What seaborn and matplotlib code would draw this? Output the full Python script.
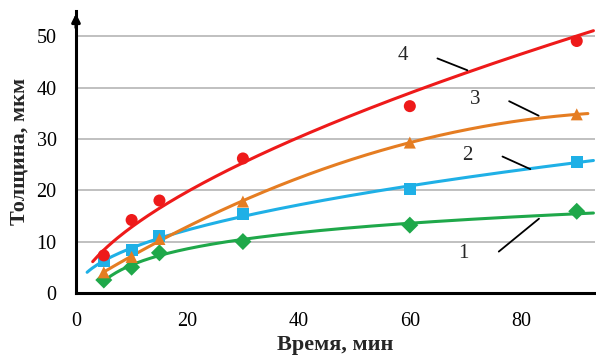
import numpy as np
import pandas as pd
import matplotlib
matplotlib.use('Agg')
import matplotlib.pyplot as plt
import seaborn as sns

# Measured points (time, min) and thickness (um) for the four curves
time = [5, 10, 15, 30, 60, 90]
thick_1 = [2.5, 5.0, 7.8, 10.0, 13.2, 15.9]
thick_2 = [6.3, 8.3, 11.1, 15.3, 20.3, 25.5]
thick_3 = [4.0, 7.0, 10.5, 17.8, 29.3, 34.8]
thick_4 = [7.3, 14.2, 18.0, 26.2, 36.4, 49.1]

curve_labels = ['1', '2', '3', '4']
colors = {'1': '#1fa84a', '2': '#1fb0e6', '3': '#e57d22', '4': '#ee1a1a'}
markers = {'1': 'D', '2': 's', '3': '^', '4': 'o'}

# trend line types (as in the spreadsheet) and their drawn x-range
trend_kind = {'1': 'log', '2': 'power', '3': 'poly2', '4': 'power'}
trend_range = {'1': (5, 93), '2': (2, 93), '3': (5, 92), '4': (3, 93)}

points = pd.DataFrame({
    'time': time * 4,
    'thick': thick_1 + thick_2 + thick_3 + thick_4,
    'curve': [c for c in curve_labels for _ in time],
})


def trend(x, y, kind, xs):
    x = np.asarray(x, float)
    y = np.asarray(y, float)
    if kind == 'power':
        b, a = np.polyfit(np.log(x), np.log(y), 1)
        return np.exp(a) * xs ** b
    if kind == 'log':
        b, a = np.polyfit(np.log(x), y, 1)
        return a + b * np.log(xs)
    return np.polyval(np.polyfit(x, y, 2), xs)


rows = []
for c in curve_labels:
    sub = points[points['curve'] == c]
    xs = np.linspace(*trend_range[c], 200)
    ys = trend(sub['time'], sub['thick'], trend_kind[c], xs)
    rows.append(pd.DataFrame({'time': xs, 'thick': ys, 'curve': c}))
lines = pd.concat(rows, ignore_index=True)

sns.set_style('white')
plt.rcParams['font.family'] = ['Liberation Serif', 'DejaVu Serif']

fig = plt.figure(figsize=(5.96, 3.58), dpi=100)
ax = fig.add_axes([0.1275, 0.182, 0.871, 0.788])

sns.lineplot(data=lines, x='time', y='thick', hue='curve', palette=colors,
             linewidth=2.2, legend=False, ax=ax, sort=False, estimator=None)
sns.scatterplot(data=points, x='time', y='thick', hue='curve', style='curve',
                palette=colors, markers=markers, s=75, edgecolor='none',
                legend=False, ax=ax, zorder=3)

ax.set_xlim(0, 93.3)
ax.set_ylim(0, 55)
ax.set_xticks([0, 20, 40, 60, 80])
ax.set_yticks([0, 10, 20, 30, 40, 50])
ax.yaxis.grid(True, color='#b5b5b5', linewidth=1.2)
ax.set_axisbelow(True)

for side in ['top', 'right']:
    ax.spines[side].set_visible(False)
for side in ['left', 'bottom']:
    ax.spines[side].set_linewidth(2.2)
    ax.spines[side].set_color('black')

ax.tick_params(axis='both', direction='out', length=5, width=2, labelsize=14.5,
               colors='black')
ax.tick_params(axis='y', pad=9)
ax.tick_params(axis='x', direction='inout', length=9, pad=9)

# arrow at top of y-axis
ax.annotate('', xy=(0, 1.0), xytext=(0, 0.93), xycoords='axes fraction',
            arrowprops=dict(arrowstyle='-|>', color='black', lw=2.2,
                            mutation_scale=12), annotation_clip=False)

ax.set_xlabel('Время, мин', fontsize=16, fontweight='bold', labelpad=3)
ax.set_ylabel('Толщина, мкм', fontsize=16, fontweight='bold', labelpad=5)

# curve numbers with leader lines
label_pos = {'4': ((58.8, 46.3), (64.5, 45.9), (70.8, 43.2)),
             '3': ((71.7, 37.6), (77.4, 37.6), (83.6, 34.3)),
             '2': ((70.3, 26.8), (76.2, 26.8), (82.1, 23.9)),
             '1': ((69.7, 7.7), (75.6, 7.7), (83.6, 14.8))}
for c, (txt, p0, p1) in label_pos.items():
    ax.text(txt[0], txt[1], c, fontsize=15, ha='center', va='center')
    ax.annotate('', xy=p1, xytext=p0,
                arrowprops=dict(arrowstyle='-', color='black', lw=1.3))

fig.savefig('out.png', dpi=100)
